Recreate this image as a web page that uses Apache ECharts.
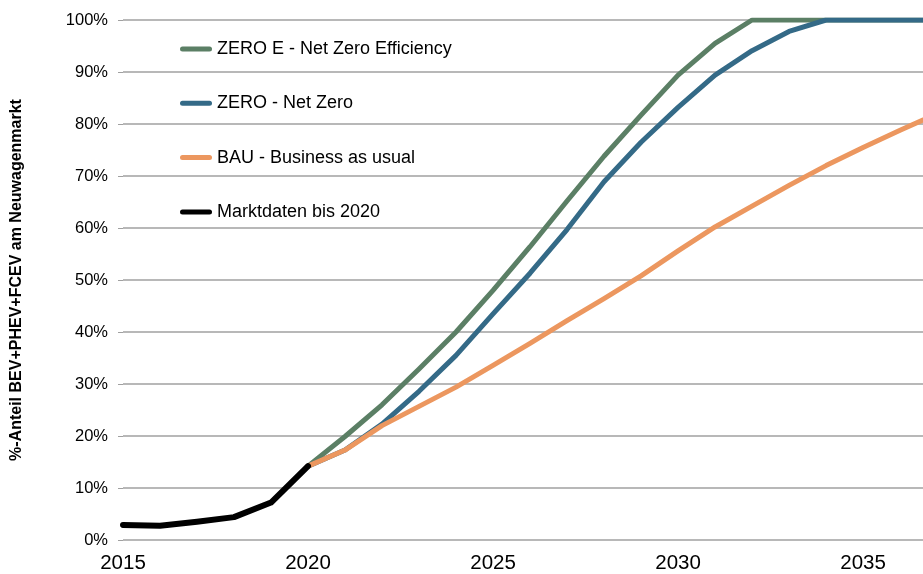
<!DOCTYPE html>
<html>
<head>
<meta charset="utf-8">
<script src="https://cdn.jsdelivr.net/npm/echarts@6/dist/echarts.min.js"></script>
<style>
html,body{margin:0;padding:0;background:#fff;}
#c{width:923px;height:574px;}
</style>
</head>
<body>
<div id="c"></div>
<script>
const histYears = [2015, 2016, 2017, 2018, 2019, 2020];
const histValues = [2.9, 2.75, 3.5, 4.4, 7.2, 14.2];
const scenYears = [2020, 2021, 2022, 2023, 2024, 2025, 2026, 2027, 2028, 2029, 2030, 2031, 2032, 2033, 2034, 2035, 2036, 2037];
const zeroE = [14.2, 19.9, 26.0, 32.9, 40.0, 48.0, 56.4, 65.2, 73.8, 81.7, 89.4, 95.5, 100, 100, 100, 100, 100, 100];
const zero = [14.2, 17.3, 22.3, 28.6, 35.5, 43.5, 51.3, 59.7, 68.9, 76.5, 83.2, 89.4, 94.1, 97.8, 100, 100, 100, 100];
const bau = [14.2, 17.3, 22.0, 25.7, 29.4, 33.6, 37.8, 42.2, 46.4, 50.8, 55.6, 60.2, 64.2, 68.2, 72.0, 75.5, 78.8, 82.0];
const seriesNames = ['ZERO E - Net Zero Efficiency', 'ZERO - Net Zero', 'BAU - Business as usual', 'Marktdaten bis 2020'];
const seriesColors = ['#5b7f65', '#346a87', '#ec975f', '#000000'];
const yAxisTitle = '%-Anteil BEV+PHEV+FCEV am Neuwagenmarkt';

function pairs(xs, ys) { return xs.map((x, i) => [x, ys[i]]); }

const dataSets = [pairs(scenYears, zeroE), pairs(scenYears, zero), pairs(scenYears, bau), pairs(histYears, histValues)];
const FONT = '"Liberation Sans", Arial, sans-serif';
const BAR_ICON = 'path://M2.5,0 L29.5,0 A2.5,2.5 0 0 1 29.5,5 L2.5,5 A2.5,2.5 0 0 1 2.5,0 Z';

const chart = echarts.init(document.getElementById('c'), null, {renderer: 'canvas'});
chart.setOption({
  animation: false,
  backgroundColor: '#ffffff',
  textStyle: {fontFamily: FONT, color: '#000'},
  grid: {left: 123, right: 0, top: 20, bottom: 34, containLabel: false},
  legend: {
    orient: 'vertical',
    left: 180,
    top: 40,
    padding: 0,
    itemWidth: 32,
    itemHeight: 5,
    itemGap: 36.3,
    itemTextGap: 5,
    icon: BAR_ICON,
    data: seriesNames,
    textStyle: {fontFamily: FONT, fontSize: 18, color: '#000'}
  },
  xAxis: {
    type: 'value',
    min: 2015,
    max: 2036.62,
    interval: 5,
    axisLine: {show: false},
    axisTick: {show: false},
    splitLine: {show: false},
    axisLabel: {
      fontFamily: FONT, fontSize: 20.5, color: '#000', margin: 13,
      showMaxLabel: false,
      formatter: v => (Math.abs(v % 5) < 1e-6 ? String(v) : '')
    }
  },
  yAxis: {
    type: 'value',
    min: 0,
    max: 100,
    interval: 10,
    name: yAxisTitle,
    nameLocation: 'middle',
    nameGap: 98,
    nameTextStyle: {fontFamily: FONT, fontSize: 16, fontWeight: 'bold', color: '#000'},
    axisLine: {show: false},
    axisTick: {show: true, length: 5, lineStyle: {color: '#a0a0a0', width: 1}},
    splitLine: {show: true, lineStyle: {color: '#a0a0a0', width: 1.5}},
    axisLabel: {fontFamily: FONT, fontSize: 16.5, color: '#000', margin: 15, formatter: '{value}%'}
  },
  series: seriesNames.map((name, i) => ({
    name: name,
    type: 'line',
    data: dataSets[i],
    symbol: 'none',
    smooth: false,
    clip: true,
    color: seriesColors[i],
    lineStyle: {color: seriesColors[i], width: i === 3 ? 6 : 5, cap: 'round', join: 'round'},
    z: 2 + i
  }))
});
</script>
</body>
</html>
